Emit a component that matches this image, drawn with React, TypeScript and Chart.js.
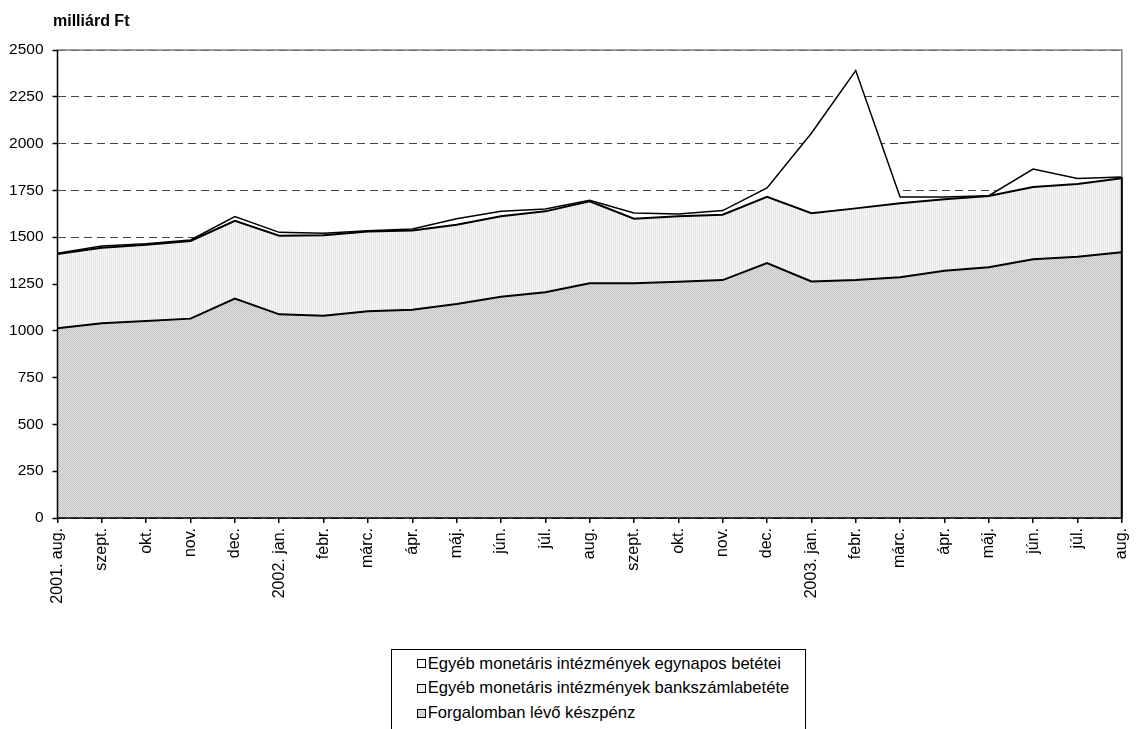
import React, { useEffect, useRef } from "react";
import { Chart, registerables } from "chart.js";

Chart.register(...registerables);

const FONT = "'Liberation Sans', Arial, Helvetica, sans-serif";

const categories = [
  "2001. aug.", "szept.", "okt.", "nov.", "dec.",
  "2002. jan.", "febr.", "márc.", "ápr.", "máj.", "jún.", "júl.", "aug.", "szept.", "okt.", "nov.", "dec.",
  "2003. jan.", "febr.", "márc.", "ápr.", "máj.", "jún.", "júl.", "aug.",
];

const keszpenz = [1013, 1040, 1052, 1065, 1172, 1088, 1081, 1104, 1112, 1143, 1182, 1206, 1254, 1254, 1262, 1271, 1362, 1264, 1271, 1286, 1321, 1339, 1382, 1396, 1419];
const bankszamla = [397, 404, 408, 415, 415, 420, 429, 426, 424, 424, 430, 432, 438, 345, 350, 349, 354, 364, 383, 395, 382, 381, 386, 388, 396];
const egynapos = [4, 9, 5, 5, 23, 18, 11, 5, 8, 32, 26, 13, 5, 30, 12, 22, 47, 427, 736, 34, 12, 2, 96, 29, 7];

const seriesLabels = [
  "Forgalomban lévő készpénz",
  "Egyéb monetáris intézmények bankszámlabetéte",
  "Egyéb monetáris intézmények egynapos betétei",
];

const yTitle = "milliárd Ft";

function makeHatch(): CanvasPattern | string {
  const c = document.createElement("canvas");
  c.width = 2;
  c.height = 2;
  const g = c.getContext("2d");
  if (!g) return "#d3d3d3";
  g.fillStyle = "#e2e2e2";
  g.fillRect(0, 0, 2, 2);
  g.fillStyle = "#c2c2c2";
  g.fillRect(0, 0, 1, 1);
  g.fillRect(1, 1, 1, 1);
  return g.createPattern(c, "repeat") || "#d3d3d3";
}

function makeVertical(): CanvasPattern | string {
  const c = document.createElement("canvas");
  c.width = 2;
  c.height = 2;
  const g = c.getContext("2d");
  if (!g) return "#eeeeee";
  g.fillStyle = "#f6f6f6";
  g.fillRect(0, 0, 2, 2);
  g.fillStyle = "#e6e6e6";
  g.fillRect(1, 0, 1, 2);
  return g.createPattern(c, "repeat") || "#eeeeee";
}

export default function App() {
  const ref = useRef<HTMLCanvasElement | null>(null);

  useEffect(() => {
    document.body.style.margin = "0";
    const canvas = ref.current;
    if (!canvas) return;
    Chart.defaults.font.family = FONT;
    const totals = keszpenz.map((v, i) => v + bankszamla[i] + egynapos[i]);

    const framePlugin = {
      id: "frame",
      afterDatasetsDraw(chart: any) {
        const { ctx, chartArea } = chart;
        const { left, right, top, bottom } = chartArea;
        ctx.save();
        ctx.strokeStyle = "#808080";
        ctx.lineWidth = 1.5;
        ctx.setLineDash([]);
        ctx.beginPath();
        ctx.moveTo(left, top);
        ctx.lineTo(right, top);
        ctx.lineTo(right, bottom);
        ctx.stroke();
        const yEnd = chart.scales.y.getPixelForValue(totals[totals.length - 1]);
        ctx.strokeStyle = "#000";
        ctx.lineWidth = 2;
        ctx.beginPath();
        ctx.moveTo(right, bottom);
        ctx.lineTo(right, yEnd);
        ctx.stroke();
        ctx.lineWidth = 1.5;
        ctx.beginPath();
        ctx.moveTo(left, top);
        ctx.lineTo(left, bottom);
        ctx.lineTo(right, bottom);
        ctx.stroke();
        ctx.restore();
      },
      afterDraw(chart: any) {
        const { ctx, chartArea } = chart;
        ctx.save();
        ctx.fillStyle = "#000";
        ctx.font = `bold 16px ${FONT}`;
        ctx.textAlign = "left";
        ctx.textBaseline = "alphabetic";
        ctx.fillText(yTitle, chartArea.left - 4.5, 25.5);
        ctx.restore();
      },
    };

    const chart = new Chart(canvas, {
      type: "line",
      data: {
        labels: categories,
        datasets: [
          {
            label: seriesLabels[0],
            data: keszpenz,
            borderColor: "#000",
            borderWidth: 2,
            backgroundColor: makeHatch() as any,
            fill: "origin",
            pointRadius: 0,
            tension: 0,
          },
          {
            label: seriesLabels[1],
            data: bankszamla,
            borderColor: "#000",
            borderWidth: 2,
            backgroundColor: makeVertical() as any,
            fill: "-1",
            pointRadius: 0,
            tension: 0,
          },
          {
            label: seriesLabels[2],
            data: egynapos,
            borderColor: "#000",
            borderWidth: 1.5,
            backgroundColor: "#ffffff",
            fill: "-1",
            pointRadius: 0,
            tension: 0,
          },
        ],
      },
      options: {
        animation: false,
        responsive: false,
        layout: { padding: { left: 0, right: 13, top: 50, bottom: 111 } },
        plugins: {
          legend: { display: false },
          tooltip: { enabled: false },
          title: { display: false },
        },
        scales: {
          x: {
            type: "category",
            offset: false,
            grid: {
              drawOnChartArea: false,
              drawTicks: true,
              tickLength: 5,
              color: "#000",
              lineWidth: 1.5,
            },
            border: { display: false },
            ticks: {
              autoSkip: false,
              maxRotation: 90,
              minRotation: 90,
              padding: 5,
              color: "#000",
              font: { size: 16, family: FONT },
            },
            afterFit: (s: any) => {
              s.height = 100;
            },
          },
          y: {
            stacked: true,
            min: 0,
            max: 2500,
            ticks: {
              stepSize: 250,
              padding: 9,
              color: "#000",
              font: { size: 15.5, family: FONT },
              callback: (v: any) => String(v),
            },
            grid: {
              color: "#444444",
              lineWidth: 1,
              tickLength: 5,
              tickColor: "#000",
              tickWidth: 1.5,
              tickBorderDash: [],
            } as any,
            border: { display: false, dash: [8, 5] },
            afterFit: (s: any) => {
              s.width = 57.5;
            },
          },
        },
      },
      plugins: [framePlugin],
    });
    return () => chart.destroy();
  }, []);

  const swatches = [
    { bg: "#ffffff" },
    { bg: "#eeeeee" },
    { bg: "repeating-linear-gradient(45deg, #b6b6b6 0px, #b6b6b6 1px, #dcdcdc 1px, #dcdcdc 3px)" },
  ];
  const legendItems = [seriesLabels[2], seriesLabels[1], seriesLabels[0]];
  const rowTops = [4.5, 29, 54];

  return (
    <div style={{ position: "relative", width: 1146, height: 729, overflow: "hidden", background: "#fff" }}>
      <canvas ref={ref} width={1146} height={729} style={{ display: "block", width: 1146, height: 729 }} />
      <div
        style={{
          position: "absolute",
          left: 391,
          top: 649,
          width: 415,
          height: 110,
          border: "1px solid #000",
          boxSizing: "border-box",
          fontFamily: FONT,
          fontSize: 16.6,
          color: "#000",
          background: "#fff",
        }}
      >
        {legendItems.map((t, i) => (
          <div
            key={t}
            style={{
              position: "absolute",
              left: 24.7,
              top: rowTops[i],
              height: 18,
              display: "flex",
              alignItems: "center",
              whiteSpace: "nowrap",
            }}
          >
            <span
              style={{
                display: "inline-block",
                width: 9,
                height: 9,
                border: "1px solid #000",
                boxSizing: "border-box",
                background: swatches[i].bg,
                marginRight: 2,
                flexShrink: 0,
              }}
            />
            <span style={{ lineHeight: "18px" }}>{t}</span>
          </div>
        ))}
      </div>
    </div>
  );
}
